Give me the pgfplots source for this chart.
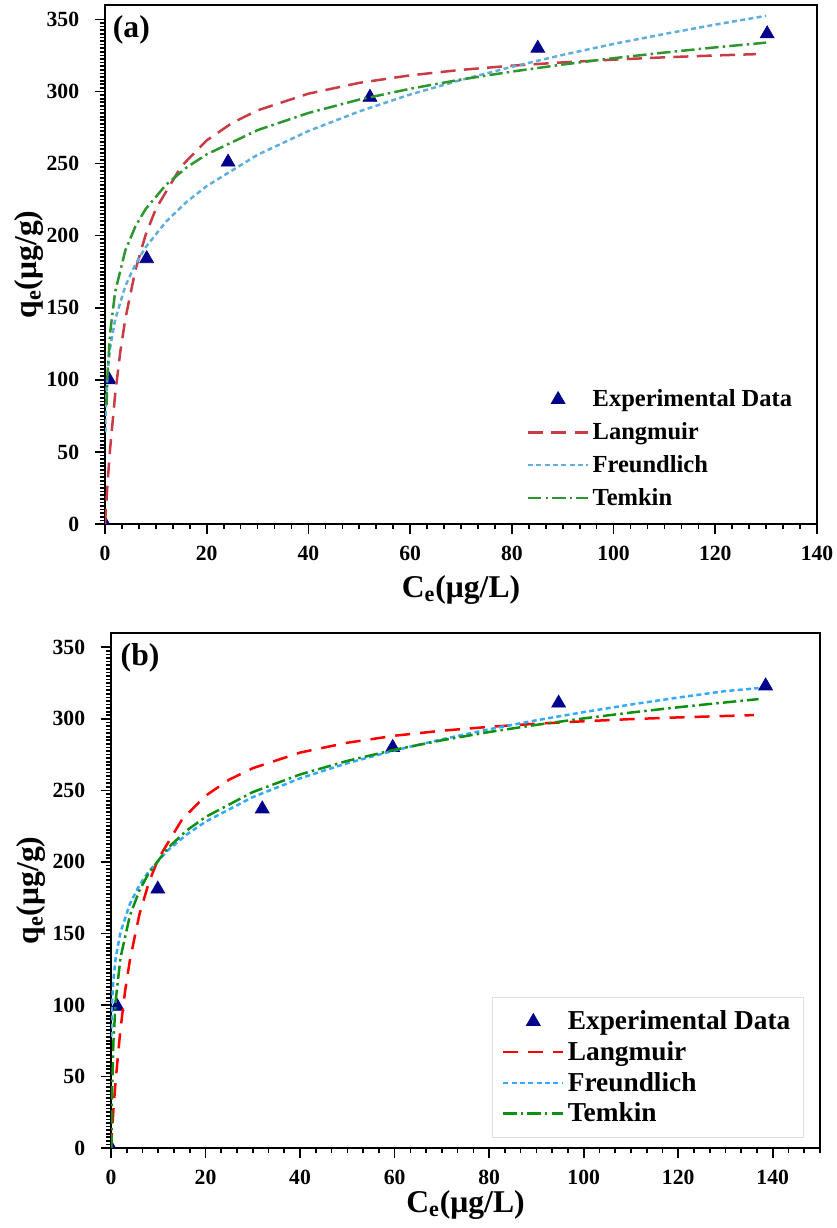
\documentclass[border=0pt]{standalone}
\usepackage{fontspec}
\setmainfont{Liberation Serif}
\usepackage{pgfplots}
\pgfplotsset{compat=1.18}
\definecolor{langA}{HTML}{C83C46}
\definecolor{freA}{HTML}{5FAEDC}
\definecolor{temA}{HTML}{2E962E}
\definecolor{langB}{HTML}{FF0000}
\definecolor{freB}{HTML}{33AAFF}
\definecolor{temB}{HTML}{109010}
\definecolor{navyT}{HTML}{00008B}
\pgfplotsset{
  iso/.style={
    scale only axis,
    xmin=0, ymin=0, ymax=360,
    xtick pos=bottom, ytick pos=left,
    tick align=outside,
    major tick length=6pt, minor tick length=3pt,
    every tick/.style={black, line width=1pt},
    axis line style={line width=1.2pt},
    ytick={0,50,...,350}, minor y tick num=19,
    xtick={0,20,...,160}, minor x tick num=5,
    tick label style={font=\fontsize{13}{13}\selectfont\bfseries},
    yticklabel style={xshift=-6pt},
    xticklabel style={yshift=-4pt},
    /pgf/number format/assume math mode=true,
    label style={font=\fontsize{19}{19}\selectfont\bfseries},
    clip marker paths=true,
    legend cell align=left,
    legend image code/.code={\draw[##1] (0pt,0pt) -- (36pt,0pt);},
  },
  langA/.style={color=langA, line width=1.5pt, dash pattern=on 9pt off 5pt},
  freA/.style={color=freA, line width=1.5pt, dash pattern=on 3pt off 2pt},
  temA/.style={color=temA, line width=1.5pt, dash pattern=on 8pt off 2.5pt on 1.5pt off 2.5pt},
  langB/.style={color=langB, line width=1.5pt, dash pattern=on 9pt off 6pt},
  freB/.style={color=freB, line width=1.5pt, dash pattern=on 3pt off 2pt},
  temB/.style={color=temB, line width=1.5pt, dash pattern=on 8pt off 2.5pt on 1.5pt off 2.5pt},
  expt/.style={only marks, mark=triangle*, mark size=4.8pt, color=navyT, fill=navyT,
    legend image code/.code={\draw[mark=triangle*, mark size=4.8pt, color=navyT, fill=navyT] plot coordinates {(18pt,0pt)};}},
}
\begin{document}
\begin{tikzpicture}
\useasboundingbox (0,0) rectangle (501.6pt,736.8pt);
% ---------------- (a)
\begin{axis}[iso,
  at={(63pt,422.4pt)}, anchor=south west,
  width=427.2pt, height=311.4pt,
  xmax=140,
  xlabel={C\textsubscript{e}(μg/L)},
  ylabel={q\textsubscript{e}(μg/g)},
  xlabel style={at={(axis description cs:0.5,-0.127)}, anchor=center},
  ylabel style={at={(axis description cs:-0.107,0.5)}, anchor=center},
  legend style={draw=none, fill=none, at={(axis description cs:0.585,0.272)}, anchor=north west,
    font=\fontsize{14.7}{14.7}\selectfont\bfseries, row sep=4pt},
]
\addplot[expt] coordinates {(0,0) (0.8,100) (8.2,184) (24.2,251) (52.1,296) (85.1,330) (130.2,340)};
\addlegendentry{Experimental Data}
\addplot[langA] coordinates {(0,0) (0.5,28.1) (1,51.9) (2,90.0) (3,119.2) (4,142.3) (6,176.5) (8,200.7) (10,218.6) (15,248.1) (20,266.1) (25,278.2) (30,286.9) (40,298.5) (50,306.0) (60,311.2) (70,315.0) (80,317.9) (90,320.2) (100,322.1) (110,323.7) (120,325.0) (128,325.9)};
\addlegendentry{Langmuir}
\addplot[freA] coordinates {(0.05,63.5) (0.1,73.9) (0.2,85.9) (0.5,104.9) (1,122.0) (2,141.9) (4,165.1) (6,180.3) (8,192.0) (12,209.7) (16,223.3) (20,234.4) (30,256.1) (40,272.6) (50,286.2) (60,297.9) (70,308.0) (80,317.1) (90,325.4) (100,333.0) (110,339.9) (120,346.4) (130,352.5)};
\addlegendentry{Freundlich}
\addplot[temA] coordinates {(0.3,82.6) (0.5,103.7) (1,132.4) (2,161.1) (4,189.8) (6,206.6) (8,218.5) (12,235.3) (16,247.2) (20,256.4) (30,273.2) (40,285.1) (50,294.4) (60,301.9) (70,308.3) (80,313.8) (90,318.7) (100,323.1) (110,327.0) (120,330.6) (130,333.9)};
\addlegendentry{Temkin}
\node[font=\fontsize{19}{19}\selectfont\bfseries] at (axis description cs:0.037,0.952) {(a)};
\end{axis}
% ---------------- (b)
\begin{axis}[iso,
  at={(66.6pt,48pt)}, anchor=south west,
  width=425.4pt, height=309pt,
  xmax=150,
  xlabel={C\textsubscript{e}(μg/L)},
  ylabel={q\textsubscript{e}(μg/g)},
  xlabel style={at={(axis description cs:0.5,-0.11)}, anchor=center},
  ylabel style={at={(axis description cs:-0.113,0.5)}, anchor=center},
  legend style={draw=black!12, fill=none, at={(axis description cs:0.537,0.293)}, anchor=north west,
    font=\fontsize{16.4}{16.4}\selectfont\bfseries, row sep=1.5pt, inner xsep=6pt, inner ysep=6pt},
]
\addplot[expt] coordinates {(0,0) (1.3,99) (9.9,181) (32,237) (59.6,280) (94.7,311) (138.5,323)};
\addlegendentry{Experimental Data}
\addplot[langB] coordinates {(0,0) (0.5,25.9) (1,47.8) (2,83.0) (3,110.1) (4,131.4) (6,163.1) (8,185.5) (10,202.1) (15,229.5) (20,246.2) (25,257.5) (30,265.5) (40,276.4) (50,283.3) (60,288.2) (70,291.7) (80,294.4) (90,296.6) (100,298.3) (110,299.8) (120,301.0) (130,302.0) (136,302.6)};
\addlegendentry{Langmuir}
\addplot[freB] coordinates {(0.05,77.6) (0.1,87.9) (0.2,99.5) (0.5,117.4) (1,133.0) (2,150.7) (4,170.7) (6,183.6) (8,193.4) (12,208.0) (16,219.1) (20,228.1) (30,245.3) (40,258.4) (50,269.0) (60,277.9) (70,285.7) (80,292.7) (90,299.0) (100,304.7) (110,310.0) (120,314.9) (130,319.4) (137,321.5)};
\addlegendentry{Freundlich}
\addplot[temB] coordinates {(0.09,0.1) (0.2,34.3) (0.5,73.5) (1,103.2) (2,132.9) (4,162.5) (6,179.9) (8,192.2) (12,209.6) (16,221.9) (20,231.4) (30,248.8) (40,261.1) (50,270.6) (60,278.4) (70,285.0) (80,290.8) (90,295.8) (100,300.3) (110,304.4) (120,308.1) (130,311.5) (137,313.8)};
\addlegendentry{Temkin}
\node[font=\fontsize{19}{19}\selectfont\bfseries] at (axis description cs:0.041,0.951) {(b)};
\end{axis}
\end{tikzpicture}
\end{document}
